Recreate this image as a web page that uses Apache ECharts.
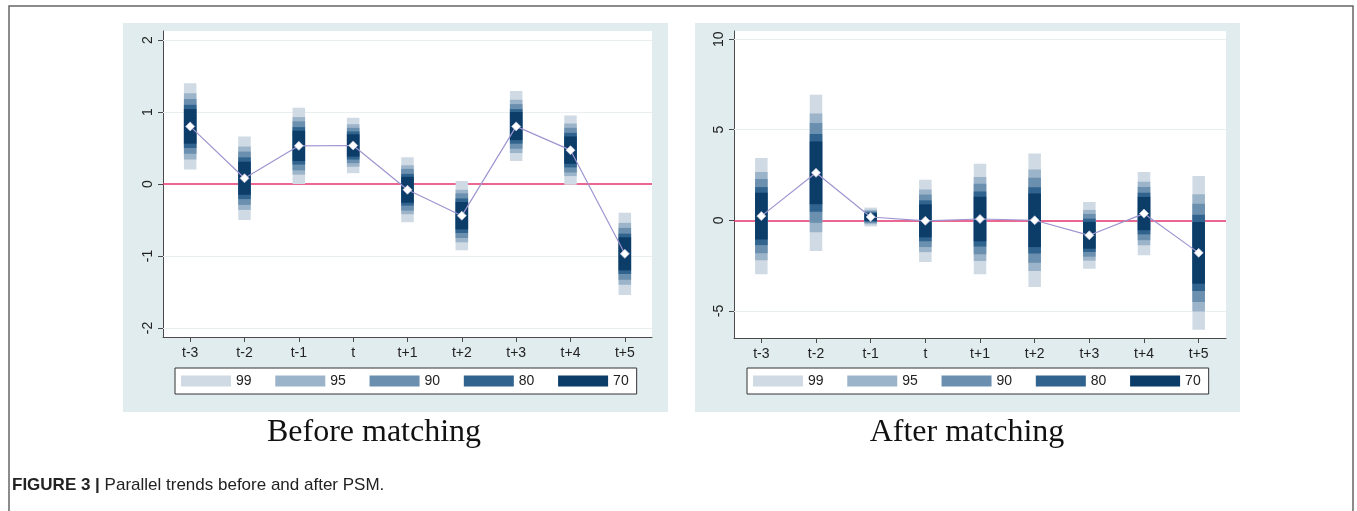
<!DOCTYPE html>
<html>
<head>
<meta charset="utf-8">
<script src="https://cdn.jsdelivr.net/npm/echarts@6/dist/echarts.min.js"></script>
<style>
html,body{margin:0;padding:0;background:#fff;}
#chart{width:1357px;height:511px;}
</style>
</head>
<body>
<div id="chart"></div>
<script>
// ---------- data ----------
const categories = ['t-3','t-2','t-1','t','t+1','t+2','t+3','t+4','t+5'];
const levels = ['99','95','90','80','70'];

const beforeTicks = [-2, -1, 0, 1, 2];
const afterTicks = [-5, 0, 5, 10];

const beforeMean = [0.80, 0.08, 0.53, 0.535, -0.08, -0.44, 0.80, 0.47, -0.97];
const beforeCi99 = [[0.20,1.40],[-0.50,0.66],[0.00,1.06],[0.15,0.92],[-0.53,0.37],[-0.92,0.04],[0.32,1.29],[-0.01,0.95],[-1.54,-0.40]];
const beforeCi95 = [[0.34,1.26],[-0.36,0.52],[0.13,0.93],[0.24,0.83],[-0.42,0.26],[-0.81,-0.08],[0.43,1.17],[0.11,0.84],[-1.40,-0.54]];
const beforeCi90 = [[0.42,1.18],[-0.29,0.45],[0.19,0.87],[0.29,0.78],[-0.37,0.21],[-0.75,-0.13],[0.49,1.11],[0.16,0.78],[-1.33,-0.61]];
const beforeCi80 = [[0.50,1.10],[-0.21,0.37],[0.27,0.79],[0.34,0.73],[-0.30,0.14],[-0.68,-0.20],[0.56,1.04],[0.23,0.71],[-1.25,-0.69]];
const beforeCi70 = [[0.56,1.04],[-0.15,0.31],[0.32,0.74],[0.38,0.69],[-0.26,0.10],[-0.63,-0.25],[0.61,1.00],[0.28,0.66],[-1.20,-0.74]];

const afterMean = [0.23, 2.62, 0.18, -0.03, 0.07, 0.00, -0.83, 0.37, -1.80];
const afterCi99 = [[-2.98,3.44],[-1.69,6.93],[-0.34,0.70],[-2.30,2.24],[-2.98,3.12],[-3.68,3.68],[-2.67,1.01],[-1.93,2.67],[-6.04,2.44]];
const afterCi95 = [[-2.21,2.67],[-0.66,5.90],[-0.22,0.58],[-1.76,1.70],[-2.25,2.39],[-2.80,2.80],[-2.23,0.57],[-1.38,2.12],[-5.03,1.43]];
const afterCi90 = [[-1.82,2.28],[-0.13,5.37],[-0.15,0.51],[-1.48,1.42],[-1.88,2.02],[-2.35,2.35],[-2.01,0.35],[-1.10,1.84],[-4.51,0.91]];
const afterCi80 = [[-1.37,1.83],[0.47,4.77],[-0.08,0.44],[-1.16,1.10],[-1.45,1.59],[-1.83,1.83],[-1.75,0.09],[-0.78,1.52],[-3.91,0.31]];
const afterCi70 = [[-1.06,1.52],[0.89,4.35],[-0.03,0.39],[-0.94,0.88],[-1.16,1.30],[-1.48,1.48],[-1.57,-0.09],[-0.55,1.29],[-3.50,-0.10]];

// ---------- styles ----------
const levelColors = ['#cfdae4', '#9cb4c9', '#6b8fae', '#30638d', '#0c3d69'];
const FONT = '"Liberation Sans", Arial, sans-serif';
const axisColor = '#4a4a4a';
const textColor = '#222';

const beforeBands = [beforeCi99, beforeCi95, beforeCi90, beforeCi80, beforeCi70];
const afterBands = [afterCi99, afterCi95, afterCi90, afterCi80, afterCi70];

function renderBand(params, api) {
  const i = api.value(0);
  const top = api.coord([i, api.value(2)]);
  const bot = api.coord([i, api.value(1)]);
  const w = 12.5;
  return {
    type: 'rect',
    shape: { x: top[0] - w / 2, y: top[1], width: w, height: bot[1] - top[1] },
    style: { fill: api.visual('color') }
  };
}

function panelSeries(idx, bands, mean, ticks) {
  const out = [];
  // grid lines and zero line
  out.push({
    type: 'line', xAxisIndex: idx, yAxisIndex: idx, data: categories.map(() => null),
    silent: true, z: 1, symbol: 'none',
    markLine: {
      silent: true, z: 1, symbol: ['none', 'none'], label: { show: false },
      animation: false,
      data: ticks.filter(t => t !== 0).map(t => ({ yAxis: t, lineStyle: { color: '#e9eff1', width: 1, type: 'solid' } }))
        .concat([{ yAxis: 0, lineStyle: { color: '#e5356c', width: 1.6, type: 'solid' } }])
    }
  });
  bands.forEach((b, k) => {
    out.push({
      type: 'custom', name: levels[k], xAxisIndex: idx, yAxisIndex: idx, z: 6,
      renderItem: renderBand,
      itemStyle: { color: levelColors[k] },
      encode: { x: 0, y: [1, 2] },
      data: b.map((p, i) => [i, p[0], p[1]])
    });
  });
  out.push({
    type: 'line', xAxisIndex: idx, yAxisIndex: idx, z: 8,
    data: mean,
    lineStyle: { color: '#9d95d0', width: 1.2 },
    symbol: 'diamond', symbolSize: 9,
    itemStyle: { color: '#ffffff', borderColor: '#c0c3dc', borderWidth: 0.8 }
  });
  return out;
}

function xAxisOf(idx) {
  return {
    gridIndex: idx, type: 'category', data: categories, boundaryGap: true, position: 'bottom',
    axisLine: { show: true, onZero: false, lineStyle: { color: axisColor, width: 1 } },
    axisTick: { show: true, alignWithLabel: true, length: 5, lineStyle: { color: axisColor } },
    axisLabel: { fontSize: 14, color: textColor, fontFamily: FONT, margin: 9 },
    splitLine: { show: false }
  };
}
function yAxisOf(idx, min, max, ticks) {
  return {
    gridIndex: idx, type: 'value', min: min, max: max, position: 'left',
    axisLine: { show: true, onZero: false, lineStyle: { color: axisColor, width: 1 } },
    axisTick: { show: true, length: 5, customValues: ticks, lineStyle: { color: axisColor } },
    axisLabel: { customValues: ticks, rotate: 90, fontSize: 14, color: textColor, fontFamily: FONT, margin: 8 },
    splitLine: { show: false }
  };
}
function legendOf(left) {
  return {
    left: left, top: 368, orient: 'horizontal',
    data: levels.map(n => ({ name: n, icon: 'rect' })),
    itemWidth: 50, itemHeight: 11, itemGap: 23.7,
    padding: [6, 8, 6, 6],
    backgroundColor: '#fff', borderColor: '#333', borderWidth: 1, borderRadius: 0,
    selectedMode: false,
    textStyle: { fontSize: 14, color: textColor, fontFamily: FONT, padding: [0, 0, 0, 0] }
  };
}

const chart = echarts.init(document.getElementById('chart'), null, { renderer: 'canvas' });
chart.setOption({
  animation: false,
  backgroundColor: '#fff',
  graphic: {
    elements: [
      { type: 'rect', z: -20, silent: true, shape: { x: 9, y: 6, width: 1344, height: 530 },
        style: { fill: '#fff', stroke: '#666', lineWidth: 1.5 } },
      { type: 'rect', z: -10, silent: true, shape: { x: 123, y: 23, width: 545, height: 389 }, style: { fill: '#e1ecef' } },
      { type: 'rect', z: -10, silent: true, shape: { x: 695, y: 23, width: 545, height: 389 }, style: { fill: '#e1ecef' } },
      { type: 'text', x: 374, y: 433, silent: true,
        style: { text: 'Before matching', font: '32px "Liberation Serif", "Times New Roman", serif', fill: '#111', textAlign: 'center', textVerticalAlign: 'middle' } },
      { type: 'text', x: 967, y: 433, silent: true,
        style: { text: 'After matching', font: '32px "Liberation Serif", "Times New Roman", serif', fill: '#111', textAlign: 'center', textVerticalAlign: 'middle' } },
      { type: 'text', x: 12, y: 485, silent: true,
        style: { text: '{b|FIGURE 3 |} Parallel trends before and after PSM.',
          font: '17px ' + FONT, fill: '#222', textVerticalAlign: 'middle',
          rich: { b: { fontWeight: 'bold', fontSize: 17, fontFamily: FONT, fill: '#222' } } } }
    ]
  },
  grid: [
    { left: 163, top: 31, width: 489, height: 306, show: true, backgroundColor: '#fff', borderWidth: 0 },
    { left: 734, top: 31, width: 492, height: 307, show: true, backgroundColor: '#fff', borderWidth: 0 }
  ],
  xAxis: [xAxisOf(0), xAxisOf(1)],
  yAxis: [yAxisOf(0, -2.125, 2.125, beforeTicks), yAxisOf(1, -6.5, 10.45, afterTicks)],
  legend: [legendOf(175), legendOf(747)],
  series: panelSeries(0, beforeBands, beforeMean, beforeTicks).concat(panelSeries(1, afterBands, afterMean, afterTicks))
});
</script>
</body>
</html>
